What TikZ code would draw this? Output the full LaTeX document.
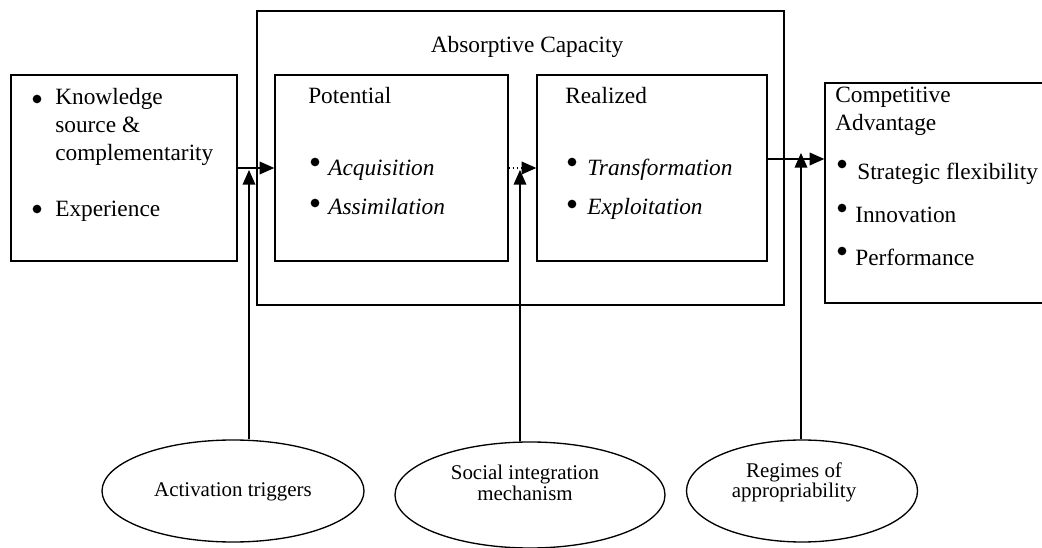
\documentclass[tikz,border=0pt]{standalone}
\usepackage{fontspec}
\setmainfont{Liberation Serif}
\usetikzlibrary{arrows.meta,shapes.geometric}

\tikzset{
  box/.style 2 args={draw,line width=1pt,inner sep=0pt,minimum width=#1*0.75pt,minimum height=#2*0.75pt},
  oval/.style 2 args={draw,ellipse,line width=1pt,inner sep=0pt,minimum width=#1*0.75pt,minimum height=#2*0.75pt},
  txt/.style={inner sep=0pt,anchor=base west,align=left,font=\fontsize{17.5}{21}\selectfont},
  ovtxt/.style={inner sep=0pt,anchor=base,align=center,font=\fontsize{15.7}{15.5}\selectfont},
  dot/.style={circle,fill,inner sep=0pt,minimum size=6.5pt},
  arr/.style={line width=1pt,-{Triangle[length=11pt,width=9.5pt]}}
}

\begin{document}
\begin{tikzpicture}[x=0.75pt,y=0.75pt,yscale=-1]
\useasboundingbox (0,0) rectangle (1042,548);

%Shape: Rectangle [knowledge source]
\node[box={226}{186}] (src) at (124,168) {};
%Shape: Rectangle [absorptive capacity]
\node[box={527}{294}] (acap) at (520.5,158) {};
\node[box={233}{186}] (pot) at (391.5,168) {};
\node[box={230}{186}] (real) at (652,168) {};
%Shape: Rectangle [competitive advantage]
\node[box={220}{220}] (comp) at (935,193) {};

%Shape: Ellipse
\node[oval={262}{102}] (act) at (233,491) {};
\node[oval={270}{106}] (soc) at (530,495) {};
\node[oval={231}{102}] (reg) at (802,491) {};

%Bullets
\node[dot] (srcD1) at (37,99) {};
\node[dot] (srcD2) at (37,209) {};
\node[dot] (potD1) at (315,162) {};
\node[dot] (potD2) at (315,203) {};
\node[dot] (realD1) at (572,162) {};
\node[dot] (realD2) at (572,204) {};
\node[dot] (compD1) at (842,164) {};
\node[dot] (compD2) at (842,208) {};
\node[dot] (compD3) at (842,251) {};

% Text Node
\node[txt] (srcT1) at (55,161) {Knowledge\\source \&\\complementarity};
\node[txt] (srcT2) at (55,217) {Experience};
% Text Node
\node[txt,anchor=base] (acapT) at (527,53) {Absorptive Capacity};
\node[txt] (potT) at (308,104) {Potential};
\node[txt] (acqT) at (328,176) {\textit{Acquisition}};
\node[txt] (assT) at (328,215) {\textit{Assimilation}};
\node[txt] (realT) at (565,104) {Realized};
\node[txt] (traT) at (587,176) {\textit{Transformation}};
\node[txt] (expT) at (587,215) {\textit{Exploitation}};
% Text Node
\node[txt] (compT) at (835,131) {Competitive\\Advantage};
\node[txt] (flexT) at (857,180) {Strategic flexibility};
\node[txt] (innT) at (855,223) {Innovation};
\node[txt] (perfT) at (855,266) {Performance};
% Text Node
\node[ovtxt] (actT) at (233,497) {Activation triggers};
\node[ovtxt] (socT) at (525,500) {Social integration\\mechanism};
\node[ovtxt] (regT) at (794,498) {Regimes of\\appropriability};

%Straight Lines
\coordinate (advin) at (0,159);
\coordinate (trigin) at (249,170);
\coordinate (socin) at (520,170);
\coordinate (regin) at (801,153);
\draw[arr] (src) -- (pot);
\draw[arr,dotted] (pot.east) -- (real.west);
\draw[arr] (real.east |- advin) -- (comp.west |- advin);
\draw[arr] (act.north -| trigin) -- (trigin);
\draw[arr] (soc.north -| socin) -- (socin);
\draw[arr] (reg.north -| regin) -- (regin);
\end{tikzpicture}
\end{document}
